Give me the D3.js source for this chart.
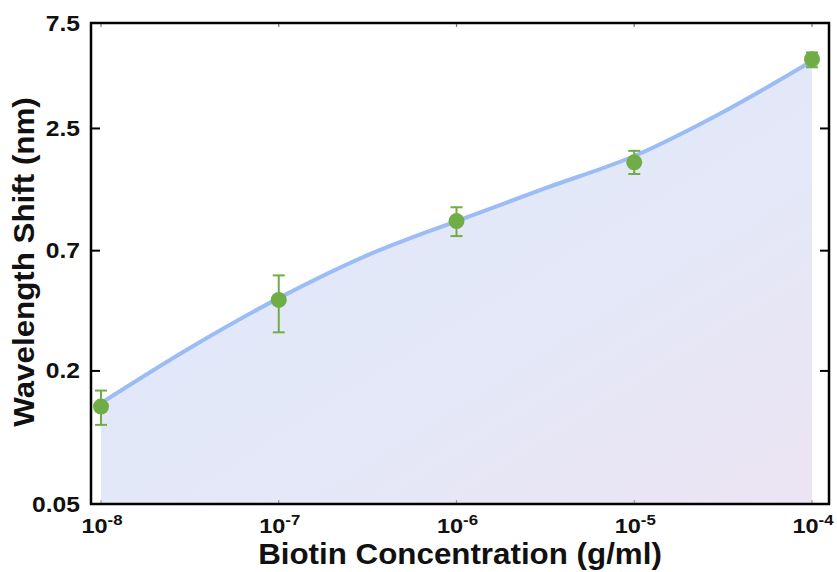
<!DOCTYPE html>
<html><head><meta charset="utf-8">
<script src="https://cdn.jsdelivr.net/npm/d3@7"></script>
<style>body{margin:0;background:#fff}svg{display:block}text{font-family:"Liberation Sans",Arial,sans-serif;font-weight:bold}</style>
</head><body><svg id="c" width="837" height="572"></svg>
<script>
const concentrations = [1e-8, 1e-7, 1e-6, 1e-5, 1e-4];
const shiftMean = [0.138, 0.419, 0.953, 1.757, 5.14];
const shiftUpper = [0.163, 0.541, 1.10, 1.98, 5.52];
const shiftLower = [0.114, 0.299, 0.815, 1.556, 4.73];
const fitX = [1e-8, 3.162e-8, 1e-7, 3.162e-7, 1e-6, 3.162e-6, 1e-5, 3.162e-5, 1e-4];
const fitY = [0.143, 0.254, 0.427, 0.668, 0.953, 1.342, 1.877, 2.97, 5.05];
const yTicks = [0.05, 0.2, 0.7, 2.5, 7.5];
const yTickLabels = ["0.05", "0.2", "0.7", "2.5", "7.5"];
const xTickExps = ["-8", "-7", "-6", "-5", "-4"];

const svg = d3.select("#c");
const L = 91, R = 829, T = 23, B = 504;
const x = d3.scaleLog().domain([1e-8, 1e-4]).range([101, 812]);
const y = d3.scaleLog().domain([0.05, 7.5]).range([B, T]);

function stretch(sel, factor) {
  const w = sel.node().getComputedTextLength();
  sel.attr("textLength", w * factor).attr("lengthAdjust", "spacingAndGlyphs");
}

const defs = svg.append("defs");
const g = defs.append("linearGradient").attr("id","fillg").attr("x1","0").attr("y1","0").attr("x2","1").attr("y2","1");
g.append("stop").attr("offset","0").attr("stop-color","#dfe8fb");
g.append("stop").attr("offset","0.6").attr("stop-color","#e4e8f8");
g.append("stop").attr("offset","1").attr("stop-color","#ece4f2");

const fit = fitX.map((d,i)=>[d, fitY[i]]);
const curve = d3.curveCatmullRom.alpha(0.5);
svg.append("path").datum(fit)
  .attr("d", d3.area().x(d=>x(d[0])).y0(B).y1(d=>y(d[1])).curve(curve))
  .attr("fill","url(#fillg)");
svg.append("path").datum(fit)
  .attr("d", d3.line().x(d=>x(d[0])).y(d=>y(d[1])).curve(curve))
  .attr("fill","none").attr("stroke","#9bbcf5").attr("stroke-width",4);

// x minor ticks (top and bottom)
concentrations.forEach(c=>{
  svg.append("line").attr("x1",x(c)).attr("x2",x(c)).attr("y1",B).attr("y2",B-4).attr("stroke","#999").attr("stroke-width",1.2);
  svg.append("line").attr("x1",x(c)).attr("x2",x(c)).attr("y1",T).attr("y2",T+4).attr("stroke","#777").attr("stroke-width",1.2);
});
// y ticks left and right
yTicks.forEach(v=>{
  svg.append("line").attr("x1",L).attr("x2",L+9).attr("y1",y(v)).attr("y2",y(v)).attr("stroke","#000").attr("stroke-width",2);
  svg.append("line").attr("x1",R).attr("x2",R-9).attr("y1",y(v)).attr("y2",y(v)).attr("stroke","#000").attr("stroke-width",2);
});

// error bars and points
const eb = svg.append("g").attr("stroke","#70ad47").attr("stroke-width",2);
concentrations.forEach((c,i)=>{
  const cx = x(c);
  eb.append("line").attr("x1",cx).attr("x2",cx).attr("y1",y(shiftUpper[i])).attr("y2",y(shiftLower[i]));
  eb.append("line").attr("x1",cx-6).attr("x2",cx+6).attr("y1",y(shiftUpper[i])).attr("y2",y(shiftUpper[i]));
  eb.append("line").attr("x1",cx-6).attr("x2",cx+6).attr("y1",y(shiftLower[i])).attr("y2",y(shiftLower[i]));
});
svg.selectAll("circle.pt").data(concentrations).enter().append("circle")
  .attr("cx",d=>x(d)).attr("cy",(d,i)=>y(shiftMean[i])).attr("r",8).attr("fill","#70ad47");

// frame
svg.append("rect").attr("x",L).attr("y",T).attr("width",R-L).attr("height",B-T)
  .attr("fill","none").attr("stroke","#000").attr("stroke-width",2.5);

// y labels
yTicks.forEach((v,i)=>{
  const t = svg.append("text").attr("x",80).attr("y",y(v)+7.5).attr("text-anchor","end")
    .attr("font-size",22).attr("fill","#111").text(yTickLabels[i]);
  stretch(t, 1.12);
});
// x labels
concentrations.forEach((c,i)=>{
  const t = svg.append("text").attr("x",x(c)+1).attr("y",533).attr("text-anchor","middle").attr("font-size",21).attr("fill","#111");
  t.append("tspan").text("10");
  t.append("tspan").attr("dy",-8).attr("font-size",15).text(xTickExps[i]);
  stretch(t, 1.12);
});
const xt = svg.append("text").attr("x",460).attr("y",564).attr("text-anchor","middle").attr("font-size",29).attr("fill","#111").text("Biotin Concentration (g/ml)");
stretch(xt, 1.08);
const yt = svg.append("text").attr("transform","translate(34,262) rotate(-90)").attr("text-anchor","middle").attr("font-size",29).attr("fill","#111").text("Wavelength Shift (nm)");
stretch(yt, 1.08);
</script></body></html>
